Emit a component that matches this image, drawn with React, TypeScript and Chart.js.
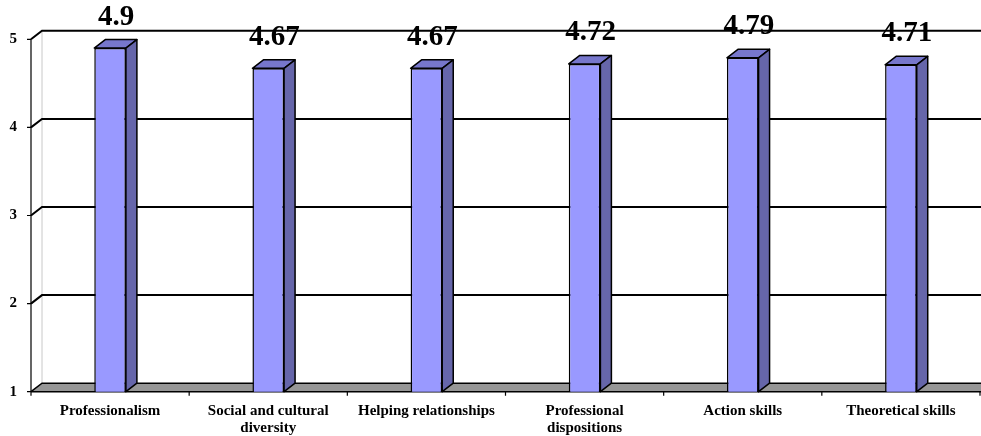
import { useEffect, useRef } from "react";
import { Chart, registerables } from "chart.js";
Chart.register(...registerables);

const categories: string[][] = [
  ["Professionalism"],
  ["Social and cultural", "diversity"],
  ["Helping relationships"],
  ["Professional", "dispositions"],
  ["Action skills"],
  ["Theoretical skills"],
];
const values = [4.9, 4.67, 4.67, 4.72, 4.79, 4.71];
const valueLabels = ["4.9", "4.67", "4.67", "4.72", "4.79", "4.71"];
const yMin = 1;
const yMax = 5;

const DX = 11;
const DY = -8.5;
const FONT = '"Liberation Serif", "Times New Roman", serif';

const threeD = {
  id: "threeD",
  beforeDatasetsDraw(chart: any) {
    const { ctx, chartArea, scales } = chart;
    const { left, right, top, bottom } = chartArea;
    const W = chart.width;
    const ys = scales.y;
    ctx.save();
    // back wall left edge
    ctx.strokeStyle = "#c8c8c8";
    ctx.lineWidth = 1;
    ctx.beginPath();
    ctx.moveTo(left + DX, top + DY);
    ctx.lineTo(left + DX, bottom + DY);
    ctx.stroke();
    // gridlines
    ctx.strokeStyle = "#000";
    ctx.lineWidth = 2;
    for (let v = yMin + 1; v <= yMax; v++) {
      const yf = ys.getPixelForValue(v);
      ctx.beginPath();
      ctx.moveTo(left, yf);
      ctx.lineTo(left + DX, yf + DY);
      ctx.lineTo(W, yf + DY);
      ctx.stroke();
    }
    // floor
    ctx.fillStyle = "#969696";
    ctx.beginPath();
    ctx.moveTo(left, bottom);
    ctx.lineTo(left + DX, bottom + DY);
    ctx.lineTo(W, bottom + DY);
    ctx.lineTo(W, bottom);
    ctx.closePath();
    ctx.fill();
    ctx.lineWidth = 1.5;
    ctx.beginPath();
    ctx.moveTo(left, bottom);
    ctx.lineTo(left + DX, bottom + DY);
    ctx.lineTo(W, bottom + DY);
    ctx.moveTo(left, bottom);
    ctx.lineTo(W, bottom);
    ctx.stroke();
    // y axis line and ticks
    ctx.lineWidth = 1.2;
    ctx.beginPath();
    ctx.moveTo(left, top);
    ctx.lineTo(left, bottom);
    for (let v = yMin; v <= yMax; v++) {
      const yf = ys.getPixelForValue(v);
      ctx.moveTo(left - 4, yf);
      ctx.lineTo(left, yf);
    }
    // x ticks at category boundaries
    const n = categories.length;
    for (let i = 0; i <= n; i++) {
      const x = left + (i * (right - left)) / n;
      ctx.moveTo(x, bottom);
      ctx.lineTo(x, bottom + 4);
    }
    ctx.stroke();
    ctx.restore();
  },
  afterDatasetsDraw(chart: any) {
    const { ctx, chartArea } = chart;
    const base = chartArea.bottom;
    const meta = chart.getDatasetMeta(0);
    ctx.save();
    ctx.strokeStyle = "#000";
    ctx.lineWidth = 1.5;
    ctx.lineJoin = "round";
    meta.data.forEach((bar: any) => {
      const { x, y, width } = bar.getProps(["x", "y", "width"], true);
      const l = x - width / 2;
      const r = x + width / 2;
      // top
      ctx.fillStyle = "#7777cc";
      ctx.beginPath();
      ctx.moveTo(l, y);
      ctx.lineTo(l + DX, y + DY);
      ctx.lineTo(r + DX, y + DY);
      ctx.lineTo(r, y);
      ctx.closePath();
      ctx.fill();
      ctx.stroke();
      // side
      ctx.fillStyle = "#6666aa";
      ctx.beginPath();
      ctx.moveTo(r, y);
      ctx.lineTo(r + DX, y + DY);
      ctx.lineTo(r + DX, base + DY);
      ctx.lineTo(r, base);
      ctx.closePath();
      ctx.fill();
      ctx.stroke();
    });
    // value labels
    ctx.fillStyle = "#000";
    ctx.font = `bold 29px ${FONT}`;
    ctx.textAlign = "center";
    ctx.textBaseline = "alphabetic";
    meta.data.forEach((bar: any, i: number) => {
      const { x, y } = bar.getProps(["x", "y"], true);
      ctx.fillText(valueLabels[i], x + 6, y + DY - 15);
    });
    ctx.restore();
  },
};

export default function App() {
  const ref = useRef<HTMLCanvasElement>(null);
  useEffect(() => {
    if (!ref.current) return;
    const chart = new Chart(ref.current, {
      type: "bar",
      data: {
        labels: categories,
        datasets: [
          {
            data: values,
            backgroundColor: "#9999ff",
            borderColor: "#000",
            borderWidth: 1.5,
            borderSkipped: false,
            barPercentage: 0.2,
            categoryPercentage: 1,
          },
        ],
      },
      options: {
        animation: false,
        responsive: false,
        devicePixelRatio: 1,
        layout: { padding: { top: 39.3, right: 1, left: 0, bottom: 0 } },
        plugins: {
          legend: { display: false },
          tooltip: { enabled: false },
        },
        scales: {
          x: {
            grid: { display: false, drawTicks: false },
            border: { display: false },
            ticks: {
              color: "#000",
              font: { family: FONT, size: 15, weight: "bold", lineHeight: 1.12 },
              padding: 11,
              maxRotation: 0,
              autoSkip: false,
            },
            afterFit: (s: any) => {
              s.height = 44.3;
            },
          },
          y: {
            min: yMin,
            max: yMax,
            grid: { display: false, drawTicks: false },
            border: { display: false },
            ticks: {
              stepSize: 1,
              color: "#000",
              font: { family: FONT, size: 15, weight: "bold" },
              padding: 14,
            },
            afterFit: (s: any) => {
              s.width = 31;
            },
          },
        },
      },
      plugins: [threeD],
    });
    return () => chart.destroy();
  }, []);
  return (
    <div style={{ position: "absolute", left: 0, top: 0, width: 981, height: 436 }}>
      <canvas ref={ref} width={981} height={436} />
    </div>
  );
}
